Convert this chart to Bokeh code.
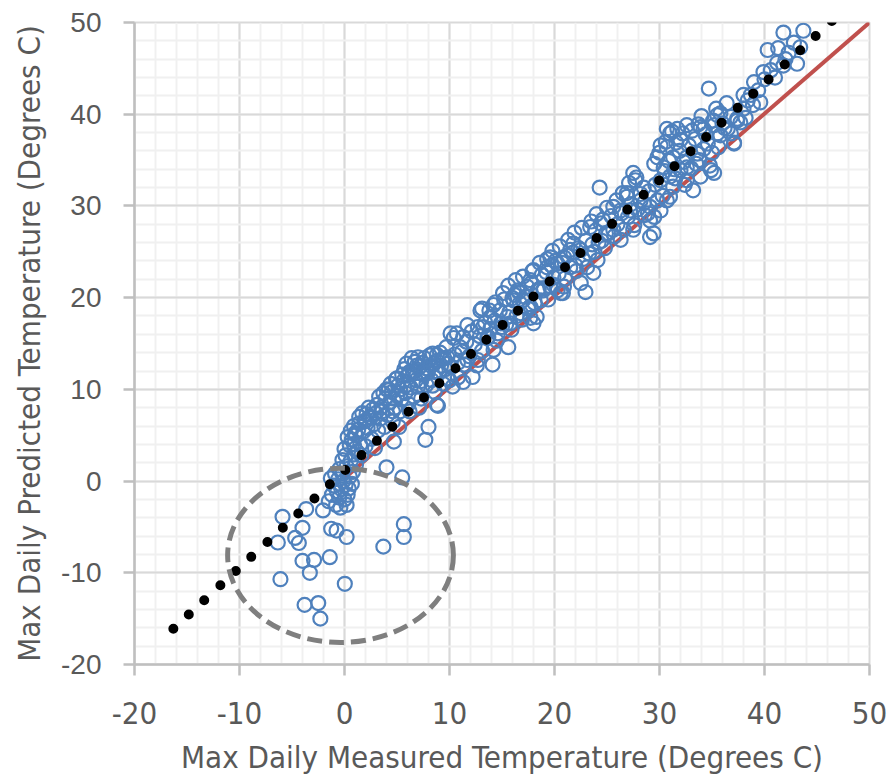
from bokeh.plotting import figure
from bokeh.models import SingleIntervalTicker, Range1d
from bokeh.embed import file_html
from bokeh.resources import INLINE

# ---- data ----
measured = [
    # outliers inside the ellipse
    -5.9, -6.35, -4.0, -4.7, -4.35, -4.0, -2.9, -3.3, -1.4, -6.1, -3.65, -2.05, -1.27, -0.76, 0.2, 0.03,
    -3.8, -2.5, -2.3, 3.7, 5.65, 5.65, 4.0, 5.5,
    # cluster near the origin
    -1.5, -1.2, -0.8, -0.5, -0.3, -1.0, -0.6, -0.2, 0.1, 0.3, 0.0, -0.4, 0.5, 0.2, -0.5, 0.6, 0.1, -0.9,
    0.8, 0.4, -1.3, 0.0, 0.5, -0.2, 0.9, 1.1, -0.7, 0.2, 0.7, -0.1,
    # 0 .. 4
    0.7, 1.0, 1.3, 1.5, 1.2, 1.8, 1.9, 2.2, 2.4, 2.0, 2.6, 2.8, 3.0, 3.2, 3.4, 3.1, 3.6, 3.8, 3.9, 2.5,
    1.6, 2.9, 1.4, 0.9, 2.1,
    0.3, 0.6, 0.9, 1.1, 1.4, 1.7, 2.0, 2.3, 2.7, 3.3, 3.5, 3.7,
    # 4 .. 7
    4.1, 4.3, 4.5, 4.6, 4.8, 5.0, 5.1, 5.3, 5.4, 5.6, 5.8, 6.0, 6.1, 6.3, 6.5, 6.6, 6.8, 6.9, 4.0, 5.2,
    6.2, 4.9, 5.7, 6.7, 4.7,
    4.2, 4.4, 4.7, 5.0, 5.5, 5.9, 6.2, 6.4, 6.0, 6.7, 7.0, 7.4, 5.3, 4.6,
    # 7 .. 10
    7.0, 7.2, 7.3, 7.5, 7.6, 7.8, 8.0, 8.1, 8.3, 8.5, 8.6, 8.8, 9.0, 9.2, 9.4, 9.6, 9.8, 7.1, 7.7, 8.0,
    8.9, 9.9, 7.9, 8.4, 9.3, 8.8, 8.8, 10.3,
    7.6, 8.2, 8.7, 9.1, 9.5, 9.7, 8.4, 7.3,
    # 10 .. 14
    10.1, 10.4, 11.3, 11.2, 12.95, 14.2, 13.9, 13.2, 14.6, 14.2, 12.2, 12.7, 9.8, 11.7, 10.8, 12.7, 13.7,
    10.2, 10.5, 10.8, 11.0, 11.4, 11.6, 11.9, 12.1, 12.4, 12.6, 12.9, 13.1, 13.4, 13.6, 13.9, 10.0, 11.3,
    13.1, 10.7, 11.7, 14.1,
    # 14 .. 18
    14.9, 15.5, 15.8, 16.8, 17.0, 17.7, 15.6, 16.5, 17.4, 16.0, 18.0, 17.7, 16.1,
    14.3, 14.5, 14.8, 15.0, 15.2, 15.4, 15.7, 15.9, 16.2, 16.4, 16.7, 16.9, 17.2, 17.5, 17.8, 18.1, 18.3,
    18.5, 18.8,
    13.8, 14.4, 15.1, 15.6, 16.3, 16.6, 17.0, 17.9, 18.6, 19.3, 19.8,
    # 18 .. 23
    18.7, 19.6, 18.95, 20.3, 20.8, 21.8, 21.5, 22.5, 20.9, 20.3, 19.6, 19.3, 19.9, 23.1, 24.1, 23.7,
    22.95, 22.5, 20.6, 20.9, 18.0, 18.4, 17.7,
    19.0, 19.2, 19.4, 19.7, 19.9, 20.1, 20.4, 20.7, 21.0, 21.2, 21.5, 21.8, 22.1, 22.3, 22.7, 23.0, 23.3,
    # 23 .. 29
    24.3, 26.9, 25.6, 26.3, 27.2, 28.5, 29.8, 31.0, 29.1, 29.45, 29.1, 24.4, 23.4, 24.9, 25.6, 26.3, 27.5,
    23.6, 23.9, 24.2, 24.6, 24.8, 25.1, 25.4, 25.7, 26.0, 26.4, 26.6, 27.0, 27.3, 27.6, 27.9, 28.2, 28.6,
    20.5, 21.3, 21.9, 22.6, 23.5, 24.0, 25.0, 25.9, 26.5, 27.1, 27.8, 22.0, 23.8, 24.5,
    # 27 .. 37
    30.7, 31.7, 32.6, 31.0, 30.1, 30.7, 32.0, 33.9, 35.1, 36.8, 37.4, 35.8, 35.5, 36.8, 37.1, 29.8, 29.5,
    30.4, 31.3, 32.6, 33.6, 34.6, 34.9, 35.2, 33.9, 32.6, 32.0, 31.0, 31.3, 30.1, 27.5, 27.7, 28.5, 26.9,
    28.2, 29.1, 30.1, 29.5, 30.7, 28.9, 32.6, 33.2,
    29.0, 29.6, 30.3, 30.5, 30.9, 31.5, 31.9, 32.3, 32.8, 33.0, 33.4,
    33.8, 34.2, 34.4, 35.0, 35.6, 36.2, 36.0, 34.8,
    30.0, 30.6, 31.2, 31.6, 32.2, 33.1, 33.7, 34.0, 35.4, 36.4, 31.4, 32.4, 33.5,
    # 34 .. 44
    41.8, 43.7, 40.3, 41.3, 42.3, 43.1, 41.2, 41.8, 39.9, 39.0, 34.7, 38.0, 38.7, 38.4, 38.0, 37.4, 35.5,
    35.2, 36.5, 34.2, 35.8, 37.1, 37.7,
    38.2, 38.9, 39.4, 39.6, 40.0, 40.6, 41.0, 42.0, 42.8, 43.4,
]
predicted = [
    -3.9, -6.7, -5.1, -6.2, -6.75, -8.7, -8.6, -10.0, -8.3, -10.7, -3.05, -3.2, -5.2, -5.4, -6.1, -11.2,
    -13.5, -13.3, -15.0, -7.15, -4.7, -6.1, 1.5, 0.4,
    -2.2, -1.5, -2.6, -1.8, -0.9, -0.5, 0.2, 0.8, -0.4, -1.5, -2.0, -2.9, 0.5, 1.6, 1.3, 2.2, 2.8, 0.8,
    1.0, -0.8, 0.3, 3.5, 3.9, 2.3, 2.9, 1.8, -1.2, -2.6, -0.3, 0.0,
    4.5, 5.2, 5.6, 4.0, 3.2, 5.4, 6.5, 5.8, 7.0, 3.8, 4.6, 6.2, 7.4, 5.5, 6.8, 8.3, 7.6, 5.9, 9.0, 6.9,
    2.8, 3.6, 6.3, 4.0, 7.3,
    4.8, 5.5, 6.0, 5.0, 7.0, 7.4, 6.6, 8.0, 7.8, 9.2, 8.0, 9.6,
    7.2, 8.6, 9.7, 6.5, 8.0, 9.3, 10.4, 7.6, 8.9, 10.9, 9.6, 11.5, 8.4, 10.2, 12.0, 9.2, 11.0, 12.6, 10.0, 5.9,
    7.6, 11.1, 12.2, 13.0, 4.3,
    9.9, 10.6, 9.0, 11.2, 11.6, 12.8, 11.9, 13.4, 10.5, 12.0, 13.5, 12.9, 10.0, 7.6,
    10.3, 12.5, 9.0, 11.6, 13.4, 10.5, 12.2, 13.7, 11.0, 12.8, 9.7, 13.1, 11.8, 12.6, 10.6, 12.2, 11.2, 8.0, 4.5, 5.9,
    8.2, 12.8, 11.8, 13.9, 13.3, 8.3, 13.75, 10.3,
    11.8, 12.6, 12.0, 14.0, 13.4, 14.6, 10.4, 10.9,
    16.1, 15.6, 15.7, 14.1, 18.6, 19.2, 17.9, 16.8, 16.1, 14.3, 11.35, 13.2, 13.5, 13.2, 12.9, 16.8, 15.7,
    12.4, 13.8, 11.3, 14.6, 12.7, 15.2, 13.6, 16.3, 14.9, 12.6, 15.8, 14.2, 17.3, 15.6, 16.6, 11.0, 10.8,
    18.8, 16.1, 17.0, 12.7,
    17.2, 17.9, 17.2, 18.3, 19.7, 19.0, 14.6, 20.8, 21.2, 19.95, 17.2, 17.8, 19.7,
    17.5, 15.3, 18.6, 16.8, 19.8, 17.1, 18.4, 16.5, 20.3, 18.0, 19.4, 17.6, 20.1, 18.8, 21.6, 19.4, 17.9,
    20.9, 22.5,
    18.6, 19.5, 20.5, 21.3, 21.9, 20.6, 22.3, 22.9, 23.8, 24.2, 25.1,
    19.7, 21.2, 20.8, 20.8, 20.5, 25.9, 25.2, 25.2, 24.4, 23.7, 24.4, 23.3, 22.2, 23.3, 24.1, 22.7,
    20.6, 21.6, 20.5, 21.2, 23.0, 20.8, 21.9,
    21.0, 22.8, 19.8, 23.5, 21.4, 24.0, 22.6, 23.8, 22.1, 24.6, 23.3, 24.9, 22.9, 25.4, 24.2, 26.2, 24.8,
    32.0, 31.0, 29.9, 29.5, 29.5, 30.3, 30.6, 31.0, 28.4, 27.0, 26.6, 28.1, 27.7, 27.0, 27.4, 26.3, 27.4,
    25.8, 27.3, 26.0, 28.5, 25.4, 27.0, 28.9, 26.7, 28.0, 29.2, 27.4, 28.8, 30.2, 27.9, 29.6, 31.3, 29.0,
    25.6, 26.3, 27.1, 27.6, 28.3, 29.1, 29.8, 30.6, 31.4, 32.5, 33.1, 23.5, 25.0, 26.2,
    38.4, 38.4, 38.8, 37.9, 36.6, 36.4, 37.2, 38.6, 39.3, 39.7, 39.3, 40.1, 37.9, 37.9, 36.8, 35.3, 34.6,
    34.2, 35.3, 35.3, 35.7, 36.8, 33.9, 33.6, 33.2, 34.2, 33.9, 33.2, 32.1, 32.8, 33.6, 32.8, 32.0, 31.4,
    30.6, 29.9, 29.5, 28.8, 30.6, 29.2, 32.8, 31.7,
    31.6, 32.3, 31.1, 33.8, 34.9, 33.0, 36.0, 34.8, 36.6, 34.1, 37.3,
    35.0, 36.2, 37.8, 35.8, 36.4, 38.5, 39.0, 34.4,
    35.8, 37.0, 38.1, 36.9, 37.9, 38.2, 38.9, 39.8, 40.6, 41.2, 34.0, 32.3, 34.6,
    48.9, 49.1, 47.0, 47.2, 46.7, 45.5, 45.6, 45.3, 44.6, 43.5, 42.8, 42.1, 42.1, 41.5, 40.6, 39.5, 39.9,
    38.8, 38.4, 38.4, 37.7, 36.9, 39.1,
    39.6, 41.0, 42.6, 41.3, 43.8, 44.8, 44.0, 46.0, 47.8, 47.3,
]

# 1:1 reference line and linear trend (end points)
ideal_x = [0.0, 50.0]
ideal_y = [0.3, 50.0]
trend_x = [-16.3, 46.45]
trend_y = [-16.1, 50.2]

x_ticks = [-20, -10, 0, 10, 20, 30, 40, 50]
x_tick_labels = ["-20", "-10", "0", "10", "20", "30", "40", "50"]
y_ticks = [-20, -10, 0, 10, 20, 30, 40, 50]
y_tick_labels = ["-20", "-10", "0", "10", "20", "30", "40", "50"]

# ---- styles ----
GREY_TXT = "#595959"
NARROW = "'Liberation Sans Narrow', 'DejaVu Sans Condensed', 'Noto Sans Condensed', 'Roboto Condensed', 'Arial Narrow', sans-serif"
REG = "'Liberation Sans', Arial, sans-serif"

p = figure(width=887, height=780, output_backend="svg", toolbar_location=None,
           x_range=Range1d(x_ticks[0], x_ticks[-1]), y_range=Range1d(y_ticks[0], y_ticks[-1]),
           min_border_left=134, min_border_right=18, min_border_top=22, min_border_bottom=116)
p.outline_line_color = "#d9d9d9"
p.outline_line_width = 2
p.background_fill_color = "white"
p.border_fill_color = "white"

for ax, ticks, labels in ((p.xaxis, x_ticks, x_tick_labels), (p.yaxis, y_ticks, y_tick_labels)):
    ax.ticker = SingleIntervalTicker(interval=10, num_minor_ticks=5)
    ax.major_label_overrides = dict(zip(ticks, labels))
    ax.axis_line_color = "#bfbfbf"
    ax.axis_line_width = 2.5
    ax.major_tick_line_color = "#bfbfbf"
    ax.major_tick_line_width = 2.5
    ax.major_tick_out = 11
    ax.major_tick_in = 0
    ax.minor_tick_out = 0
    ax.minor_tick_in = 0
    ax.major_label_text_color = GREY_TXT
    ax.axis_label_text_color = GREY_TXT
    ax.axis_label_text_font_style = "normal"
    ax.axis_label_text_font = NARROW
    ax.axis_label_text_font_size = "31px"

p.xaxis.major_label_text_font = NARROW
p.xaxis.major_label_text_font_size = "31px"
p.xaxis.major_label_standoff = 26
p.xaxis.axis_label_standoff = 12
p.yaxis.major_label_text_font = REG
p.yaxis.major_label_text_font_size = "28px"
p.yaxis.major_label_standoff = 22
p.yaxis.axis_label_standoff = 11

p.xaxis.axis_label = "Max Daily Measured Temperature (Degrees C)"
p.yaxis.axis_label = "Max Daily Predicted Temperature (Degrees C)"

for g in (p.xgrid, p.ygrid):
    g.grid_line_color = "#d9d9d9"
    g.grid_line_width = 2
    g.minor_grid_line_color = "#f0f0f0"
    g.minor_grid_line_width = 2

p.line(ideal_x, ideal_y, line_color="#c0504d", line_width=4)
p.scatter(measured, predicted, size=14, fill_color=None, line_color="#4f81bd", line_width=2.2)
p.line(trend_x, trend_y, line_color="black", line_width=10, line_cap="round", line_dash="0 21 0 21 0 22")
p.ellipse(x=[-0.38], y=[-8.1], width=[21.5], height=[19.0], fill_color=None,
          line_color="#7f7f7f", line_width=5, line_dash="15 7")

open("out.html", "w").write(file_html(p, INLINE))
